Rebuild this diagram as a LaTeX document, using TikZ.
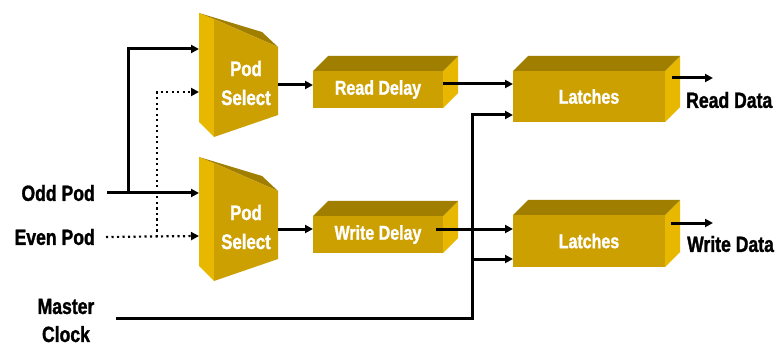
\documentclass[tikz,border=0pt]{standalone}
\usepackage{fontspec}
\setmainfont{Liberation Sans}[FakeStretch=0.8, BoldFeatures={FakeBold=1.3}]
\usetikzlibrary{arrows.meta}
\definecolor{goldfront}{RGB}{204,160,0}
\definecolor{goldtop}{RGB}{160,126,0}
\definecolor{goldside}{RGB}{232,184,0}

\tikzset{
  wire/.style={line width=3pt, -{Triangle[length=8pt,width=8pt]}},
  dotwire/.style={line width=2.2pt, dash pattern=on 2.2pt off 3.3pt,
    -{Triangle[length=8pt,width=8pt]}},
  frontface/.style={fill=goldfront, text=white,
    font=\bfseries\fontsize{20}{29}\selectfont, inner sep=0pt, outer sep=0pt},
  txtlabel/.style={font=\bfseries\fontsize{22}{28}\selectfont, inner sep=0pt},
  % box seen in perspective: front face #1 x #2, label #3
  pics/slab/.style n args={3}{code={
    \fill[goldside] (#1,0) -- ++(15,-15) -- ++(0,#2) -- (#1,#2) -- cycle;
    \fill[goldtop] (0,0) -- (15,-15) -- ++(#1,0) -- (#1,0) -- cycle;
    \node[frontface, minimum width=#1pt, minimum height=#2pt,
      anchor=north west] (-f) at (0,0) {#3};
  }},
  % multiplexer block with a slanted top
  pics/podselect/.style={code={
    \fill[goldside] (0,0) -- (15,6) -- (15,124) -- (0,109) -- cycle;
    \fill[goldtop] (0,0) -- (63,19) -- (79,34) -- (15,6) -- cycle;
    \fill[goldfront] (15,6) -- (79,34) -- (79,102) -- (15,124) -- cycle;
    \node[frontface, fill=none, align=center,
      font=\bfseries\fontsize{21}{29}\selectfont] (-t) at (47,70) {Pod\\Select};
    \coordinate (-in1) at (0,36);
    \coordinate (-in2) at (0,79);
    \coordinate (-out) at (79,72);
  }},
}

\begin{document}
\begin{tikzpicture}[x=1pt,y=-1pt]
  \useasboundingbox[fill=white] (0,0) rectangle (783,347);

  % blocks
  \pic (ps1) at (199,13) {podselect};
  \pic (ps2) at (199,157) {podselect};
  \pic (rd) at (313,71) {slab={130}{37}{Read Delay}};
  \pic (wd) at (313,216) {slab={130}{37}{Write Delay}};
  \pic (lt1) at (513,71) {slab={152}{51}{Latches}};
  \pic (lt2) at (513,215) {slab={152}{52}{Latches}};

  % labels
  \node[txtlabel, anchor=east] (odd) at (95,193) {Odd Pod};
  \node[txtlabel, anchor=east] (even) at (95,237) {Even Pod};
  \node[txtlabel, align=center] (mclk) at (66,320.5) {Master\\Clock};
  \node[txtlabel, anchor=west] (rdata) at (686,100) {Read Data};
  \node[txtlabel, anchor=west] (wdata) at (687,244) {Write Data};

  % junction and end points
  \coordinate (jodd) at (128,193);
  \coordinate (jeven) at (157,237);
  \coordinate (clkstart) at (116,318);
  \coordinate (clk) at (472,318);
  \coordinate (rdout) at (443,84);
  \coordinate (wdout) at (436,229);
  \coordinate (lt1in2) at (513,115);
  \coordinate (lt2in2) at (513,259);
  \coordinate (lt1out) at (672,78);
  \coordinate (lt2out) at (671,223);
  \coordinate (rdend) at (713,78);
  \coordinate (wdend) at (713,223);

  % odd pod (solid) and even pod (dotted) inputs
  \draw[wire] ([xshift=12pt]odd.east) -- (ps2-in1);
  \draw[wire] (jodd) |- (ps1-in1);
  \draw[dotwire] ([xshift=11pt]even.east) -- (ps2-in2);
  \draw[dotwire] (jeven) |- (ps1-in2);

  % data path
  \draw[wire] (ps1-out) -- (rd-f.west |- ps1-out);
  \draw[wire] (ps2-out) -- (wd-f.west |- ps2-out);
  \draw[wire] (rdout) -- (lt1-f.west |- rdout);
  \draw[wire] (wdout) -- (lt2-f.west |- wdout);

  % master clock
  \draw[wire] (clkstart) -- (clk) |- (lt1in2);
  \draw[wire] (clk |- lt2in2) -- (lt2in2);

  % outputs
  \draw[wire] (lt1out) -- (rdend);
  \draw[wire] (lt2out) -- (wdend);
\end{tikzpicture}
\end{document}
